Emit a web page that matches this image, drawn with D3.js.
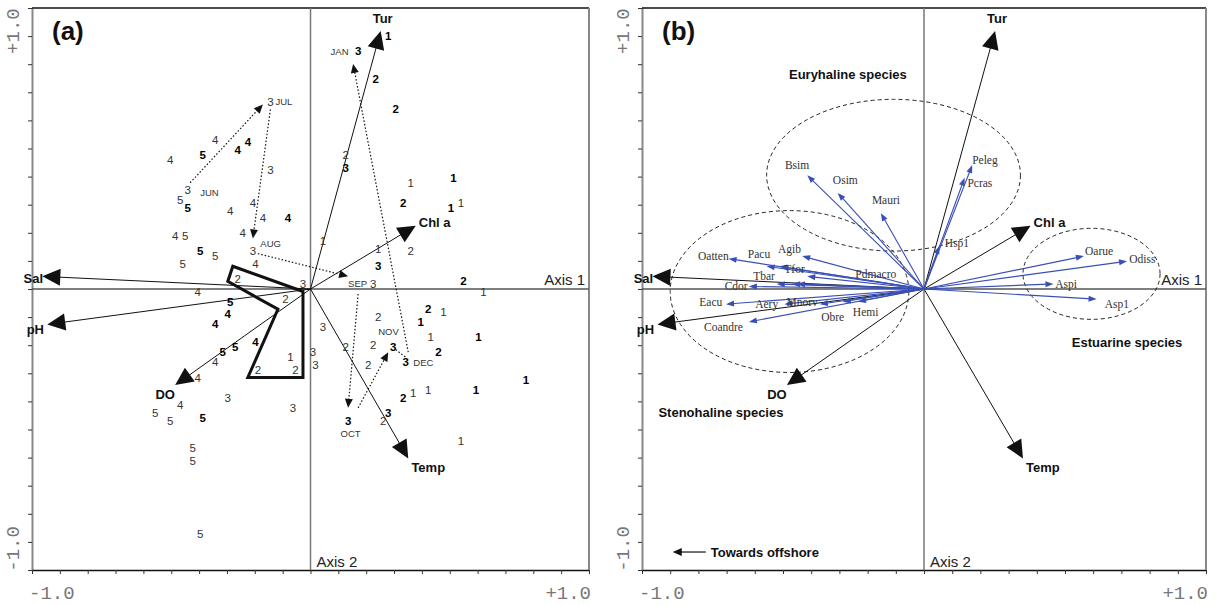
<!DOCTYPE html>
<html>
<head>
<meta charset="utf-8">
<script src="https://cdn.jsdelivr.net/npm/d3@7"></script>
<style>
  body { margin: 0; background: #fff; }
  svg { display: block; font-family: "Liberation Sans", Arial, sans-serif; }
  .tick-lbl { font-family: "Liberation Mono", "DejaVu Sans Mono", monospace; font-size: 19px; fill: #777; }
  .axis-name { font-size: 15px; fill: #222; }
  .panel-tag { font-size: 26px; font-weight: bold; fill: #111; }
  .env-lbl { font-size: 13px; font-weight: bold; fill: #111; }
  .pt { font-size: 11.5px; fill: #333; }
  .pt.bold { font-weight: bold; fill: #000; }
  .month { font-size: 9.5px; fill: #333; }
  .sp-lbl { font-family: "Liberation Serif", "Times New Roman", serif; font-size: 11.5px; fill: #333; }
  .group-lbl { font-size: 13px; font-weight: bold; fill: #111; }
</style>
</head>
<body>
<svg id="chart" width="1219" height="605"></svg>
<script>
// frame runs a bit past +/-1, ticks every 1/9
const LIM = 10 / 9;
const TICK_VALUES = d3.range(-10, 11).map(k => k / 9);

// environmental variables (same vectors in both panels)
const ENV_NAMES = ["Tur", "Chl a", "Sal", "pH", "DO", "Temp"];
const ENV_X = [0.28, 0.42, -1.07, -1.05, -0.54, 0.39];
const ENV_Y = [1.02, 0.25, 0.05, -0.14, -0.38, -0.67];

// panel (a): samples labelled by station number
const PT_LABEL = [
  "3","4","4","5","4","4","3","3","5","5","4","4","4","4","4","5","4","3","5","5","5","4","2","3",
  "4","5","2","4","4","5","4","5","4","1","2","2","4","3","3","4","5","5","5","5","5","5",
  "1","3","2","2","1","1","3","3","2","2","1","1","2","2","1","1","2","1","1","2","3","1",
  "3","3","3","3","3",
  "1","2","2","2","3","1","1","2","1","1","1","1","2","3","2"
];
const PT_BOLD = [
  0,0,1,1,1,0,0,0,0,1,0,0,0,1,0,0,0,0,1,0,0,0,0,0,
  0,1,0,1,1,1,1,1,0,0,0,0,0,0,0,0,0,0,1,0,0,0,
  0,0,0,1,0,1,0,0,0,0,0,1,1,0,0,0,1,1,1,0,1,0,
  1,1,1,1,0,
  1,1,1,0,1,0,1,1,1,0,0,0,0,1,1
];
const PT_X = [
  -0.16,-0.38,-0.25,-0.43,-0.29,-0.56,-0.16,-0.49,-0.52,-0.49,-0.32,-0.23,-0.19,-0.09,-0.54,-0.50,-0.27,-0.23,-0.44,-0.38,-0.51,-0.22,-0.29,-0.03,
  -0.45,-0.32,-0.10,-0.33,-0.38,-0.30,-0.22,-0.35,-0.38,-0.08,-0.21,-0.06,-0.45,-0.33,-0.07,-0.52,-0.62,-0.56,-0.43,-0.47,-0.47,-0.44,
  0.69,0.05,0.27,0.47,0.53,0.44,0.01,0.02,0.14,0.25,0.48,0.67,0.51,0.23,0.41,0.47,0.37,0.66,0.86,0.29,0.31,0.60,
  0.15,0.33,0.38,0.19,0.25,
  0.31,0.26,0.34,0.14,0.14,0.40,0.57,0.37,0.56,0.60,0.05,0.27,0.40,0.27,0.61
];
const PT_Y = [
  0.74,0.59,0.58,0.53,0.55,0.51,0.47,0.39,0.35,0.32,0.31,0.34,0.28,0.28,0.21,0.21,0.22,0.15,0.15,0.13,0.10,0.10,0.04,0.02,
  -0.01,-0.05,-0.04,-0.10,-0.14,-0.23,-0.21,-0.25,-0.29,-0.27,-0.32,-0.32,-0.35,-0.43,-0.47,-0.46,-0.49,-0.52,-0.51,-0.63,-0.68,-0.97,
  -0.01,-0.15,-0.11,-0.08,-0.09,-0.13,-0.25,-0.30,-0.23,-0.22,-0.19,-0.19,-0.25,-0.30,-0.41,-0.40,-0.43,-0.40,-0.36,-0.52,-0.49,-0.60,
  -0.52,-0.23,-0.29,0.94,0.02,
  1.00,0.83,0.71,0.53,0.48,0.42,0.44,0.34,0.32,0.34,0.19,0.16,0.15,0.09,0.03
];

// month labels and the seasonal track between them
const MONTHS = ["JUN", "JUL", "AUG", "SEP", "OCT", "NOV", "DEC", "JAN"];
const MONTH_X = [-0.44, -0.14, -0.20, 0.15, 0.12, 0.27, 0.41, 0.08];
const MONTH_Y = [0.38, 0.74, 0.18, 0.02, -0.57, -0.17, -0.29, 0.94];
const TRACK_X1 = [-0.48, -0.16, -0.21, 0.19, 0.19, 0.34, 0.39];
const TRACK_Y1 = [0.42, 0.71, 0.14, -0.02, -0.47, -0.24, -0.25];
const TRACK_X2 = [-0.19, -0.23, 0.15, 0.15, 0.31, 0.38, 0.17];
const TRACK_Y2 = [0.73, 0.20, 0.05, -0.47, -0.25, -0.27, 0.89];
const TRACK_HEAD = [1, 1, 1, 1, 1, 0, 1];

// thick outline around the station 2 group
const HULL_X = [-0.03, -0.31, -0.33, -0.13, -0.25, -0.03];
const HULL_Y = [-0.01, 0.09, 0.03, -0.08, -0.35, -0.35];

// panel (b): species vectors
const SPECIES = ["Bsim","Osim","Mauri","Oatten","Pacu","Tfor","Agib","Pdmacro","Tbar","Cdor","","",
  "Eacu","Aery","Mnorv","Obre","Hemi","Coandre","Peleg","Pcras","Hsp1","Oarue","Odiss","Aspi","Asp1"];
const SP_X = [-0.46,-0.34,-0.17,-0.77,-0.62,-0.57,-0.48,-0.46,-0.58,-0.69,-0.52,-0.50,
  -0.78,-0.55,-0.41,-0.32,-0.26,-0.69,0.19,0.16,0.06,0.63,0.80,0.51,0.68];
const SP_Y = [0.45,0.38,0.30,0.12,0.09,0.09,0.13,0.05,0.02,0.01,0.02,0.02,
  -0.06,-0.06,-0.06,-0.05,-0.05,-0.13,0.49,0.44,0.17,0.13,0.11,0.02,-0.04];
const SP_LABEL_X = [-0.50,-0.31,-0.15,-0.83,-0.65,-0.51,-0.53,-0.19,-0.63,-0.74,0,0,
  -0.84,-0.62,-0.48,-0.36,-0.23,-0.79,0.24,0.22,0.13,0.69,0.86,0.56,0.76];
const SP_LABEL_Y = [0.49,0.43,0.35,0.13,0.14,0.08,0.16,0.06,0.05,0.01,0,0,
  -0.05,-0.06,-0.05,-0.11,-0.09,-0.15,0.51,0.42,0.18,0.15,0.12,0.02,-0.06];

// species groups: dashed ellipses and their names
const GROUPS = ["Euryhaline species", "Stenohaline species", "Estuarine species"];
const GROUP_CX = [-0.12, -0.53, 0.66];
const GROUP_CY = [0.45, -0.01, 0.06];
const GROUP_RX = [0.50, 0.47, 0.27];
const GROUP_RY = [0.30, 0.32, 0.18];
const GROUP_LX = [-0.30, -0.80, 0.80];
const GROUP_LY = [0.85, -0.49, -0.21];

// label offsets (px) for the environmental arrows
const ENV_LABEL_POS = [
  { dx: 2, dy: -8, anchor: "middle" },
  { dx: 3, dy: 1, anchor: "start" },
  { dx: -9, dy: 7, anchor: "middle" },
  { dx: -12, dy: 10, anchor: "middle" },
  { dx: -10, dy: 14, anchor: "middle" },
  { dx: 20, dy: 14, anchor: "middle" },
];

const svg = d3.select("#chart");
svg.append("rect").attr("width", 1219).attr("height", 605).attr("fill", "#fff");

function makePanel(left, right, top, bottom) {
  const x = d3.scaleLinear().domain([-LIM, LIM]).range([left, right]);
  const y = d3.scaleLinear().domain([-LIM, LIM]).range([bottom, top]);
  return { g: svg.append("g"), x, y, left, right, top, bottom };
}

function headPoints(x1, y1, x2, y2, len, half) {
  const d = Math.hypot(x2 - x1, y2 - y1);
  const ux = (x2 - x1) / d, uy = (y2 - y1) / d;
  const bx = x2 - ux * len, by = y2 - uy * len;
  return [[x2, y2], [bx - uy * half, by + ux * half], [bx + uy * half, by - ux * half]];
}

function arrow(g, x1, y1, x2, y2, opts) {
  const d = Math.hypot(x2 - x1, y2 - y1);
  const cut = opts.head ? opts.len * 0.6 : 0;
  const ex = x2 - (x2 - x1) / d * cut, ey = y2 - (y2 - y1) / d * cut;
  g.append("line")
    .attr("x1", x1).attr("y1", y1).attr("x2", ex).attr("y2", ey)
    .attr("stroke", opts.color).attr("stroke-width", opts.width)
    .attr("stroke-dasharray", opts.dash || null);
  if (opts.head) {
    g.append("polygon")
      .attr("points", headPoints(x1, y1, x2, y2, opts.len, opts.half).map(p => p.join(",")).join(" "))
      .attr("fill", opts.color);
  }
}

function drawFrame(p, tag) {
  const { g, x, y, left, right, top, bottom } = p;

  g.append("g")
    .attr("transform", `translate(${left},0)`)
    .call(d3.axisLeft(y).tickValues(TICK_VALUES).tickSize(4).tickSizeOuter(0).tickFormat(""))
    .call(s => s.select(".domain").attr("stroke", "#888").attr("stroke-width", 2))
    .call(s => s.selectAll(".tick line").attr("stroke", "#333"));

  g.append("g")
    .attr("transform", `translate(0,${bottom})`)
    .call(d3.axisBottom(x).tickValues(TICK_VALUES).tickSize(4).tickSizeOuter(0).tickFormat(""))
    .call(s => s.select(".domain").attr("stroke", "#111").attr("stroke-width", 1.6))
    .call(s => s.selectAll(".tick line").attr("stroke", "#333"));

  g.append("line").attr("x1", left).attr("x2", right).attr("y1", top).attr("y2", top)
    .attr("stroke", "#111").attr("stroke-width", 1.6);
  g.append("line").attr("x1", right).attr("x2", right).attr("y1", top).attr("y2", bottom)
    .attr("stroke", "#888").attr("stroke-width", 2);

  // axes through the origin
  g.append("line").attr("x1", x(0)).attr("x2", x(0)).attr("y1", top).attr("y2", bottom)
    .attr("stroke", "#777").attr("stroke-width", 1.5);
  g.append("line").attr("x1", left).attr("x2", right).attr("y1", y(0)).attr("y2", y(0))
    .attr("stroke", "#555").attr("stroke-width", 1.5);

  g.append("text").attr("class", "axis-name")
    .attr("x", right - 4).attr("y", y(0) - 4).attr("text-anchor", "end").text("Axis 1");
  g.append("text").attr("class", "axis-name")
    .attr("x", x(0) + 6).attr("y", bottom - 3).text("Axis 2");

  // tick labels
  g.append("text").attr("class", "tick-lbl")
    .attr("transform", `translate(${left - 18},${y(1) - 5}) rotate(-90)`)
    .attr("text-anchor", "middle").attr("dominant-baseline", "central").text("+1.0");
  g.append("text").attr("class", "tick-lbl")
    .attr("transform", `translate(${left - 18},${y(-1) + 7}) rotate(-90)`)
    .attr("text-anchor", "middle").attr("dominant-baseline", "central").text("-1.0");
  g.append("text").attr("class", "tick-lbl")
    .attr("x", left - 3).attr("y", bottom + 29).text("-1.0");
  g.append("text").attr("class", "tick-lbl")
    .attr("x", right + 2).attr("y", bottom + 29).attr("text-anchor", "end").text("+1.0");

  g.append("text").attr("class", "panel-tag")
    .attr("x", left + 20).attr("y", 40).text(tag);
}

function drawEnv(p) {
  const { g, x, y } = p;
  ENV_NAMES.forEach((name, i) => {
    const tx = x(ENV_X[i]), ty = y(ENV_Y[i]);
    arrow(g, x(0), y(0), tx, ty, { color: "#111", width: 1, head: true, len: 18, half: 8.5 });
    const lp = ENV_LABEL_POS[i];
    g.append("text").attr("class", "env-lbl")
      .attr("x", tx + lp.dx).attr("y", ty + lp.dy)
      .attr("text-anchor", lp.anchor).text(name);
  });
}

// ---------- panel (a) ----------
const pa = makePanel(32, 589, 8, 570);
drawFrame(pa, "(a)");

pa.g.append("path")
  .attr("d", d3.line().x((d, i) => pa.x(HULL_X[i])).y((d, i) => pa.y(HULL_Y[i]))
    .curve(d3.curveLinearClosed)(HULL_X))
  .attr("fill", "none").attr("stroke", "#111").attr("stroke-width", 3)
  .attr("stroke-linejoin", "miter");

drawEnv(pa);

TRACK_X1.forEach((v, i) => {
  arrow(pa.g, pa.x(v), pa.y(TRACK_Y1[i]), pa.x(TRACK_X2[i]), pa.y(TRACK_Y2[i]),
    { color: "#111", width: 1.2, dash: "1.5,2", head: TRACK_HEAD[i] === 1, len: 9, half: 4 });
});

pa.g.append("g")
  .selectAll("text")
  .data(PT_LABEL)
  .enter()
  .append("text")
  .attr("class", (d, i) => PT_BOLD[i] ? "pt bold" : "pt")
  .attr("x", (d, i) => pa.x(PT_X[i]))
  .attr("y", (d, i) => pa.y(PT_Y[i]))
  .attr("text-anchor", "middle")
  .attr("dominant-baseline", "central")
  .text(d => d);

pa.g.append("g")
  .selectAll("text")
  .data(MONTHS)
  .enter()
  .append("text")
  .attr("class", "month")
  .attr("x", (d, i) => pa.x(MONTH_X[i]))
  .attr("y", (d, i) => pa.y(MONTH_Y[i]))
  .attr("dominant-baseline", "central")
  .text(d => d);

// ---------- panel (b) ----------
const pb = makePanel(642, 1206, 8, 570);
drawFrame(pb, "(b)");

GROUPS.forEach((name, i) => {
  pb.g.append("ellipse")
    .attr("cx", pb.x(GROUP_CX[i])).attr("cy", pb.y(GROUP_CY[i]))
    .attr("rx", pb.x(GROUP_RX[i]) - pb.x(0)).attr("ry", pb.y(0) - pb.y(GROUP_RY[i]))
    .attr("fill", "none").attr("stroke", "#222").attr("stroke-width", 1)
    .attr("stroke-dasharray", "4,3");
  pb.g.append("text").attr("class", "group-lbl")
    .attr("x", pb.x(GROUP_LX[i])).attr("y", pb.y(GROUP_LY[i]))
    .attr("text-anchor", "middle").attr("dominant-baseline", "central").text(name);
});

drawEnv(pb);

SPECIES.forEach((name, i) => {
  arrow(pb.g, pb.x(0), pb.y(0), pb.x(SP_X[i]), pb.y(SP_Y[i]),
    { color: "#3a4fb5", width: 1.1, head: true, len: 8, half: 3 });
});
SPECIES.forEach((name, i) => {
  if (!name) return;
  pb.g.append("text").attr("class", "sp-lbl")
    .attr("x", pb.x(SP_LABEL_X[i])).attr("y", pb.y(SP_LABEL_Y[i]))
    .attr("text-anchor", "middle").attr("dominant-baseline", "central").text(name);
});

// "Towards offshore" note
const offY = pb.y(-1.04);
arrow(pb.g, pb.x(-0.86), offY, pb.x(-0.99), offY, { color: "#111", width: 1.2, head: true, len: 9, half: 4 });
pb.g.append("text").attr("class", "group-lbl")
  .attr("x", pb.x(-0.84)).attr("y", offY)
  .attr("dominant-baseline", "central").text("Towards offshore");
</script>
</body>
</html>
